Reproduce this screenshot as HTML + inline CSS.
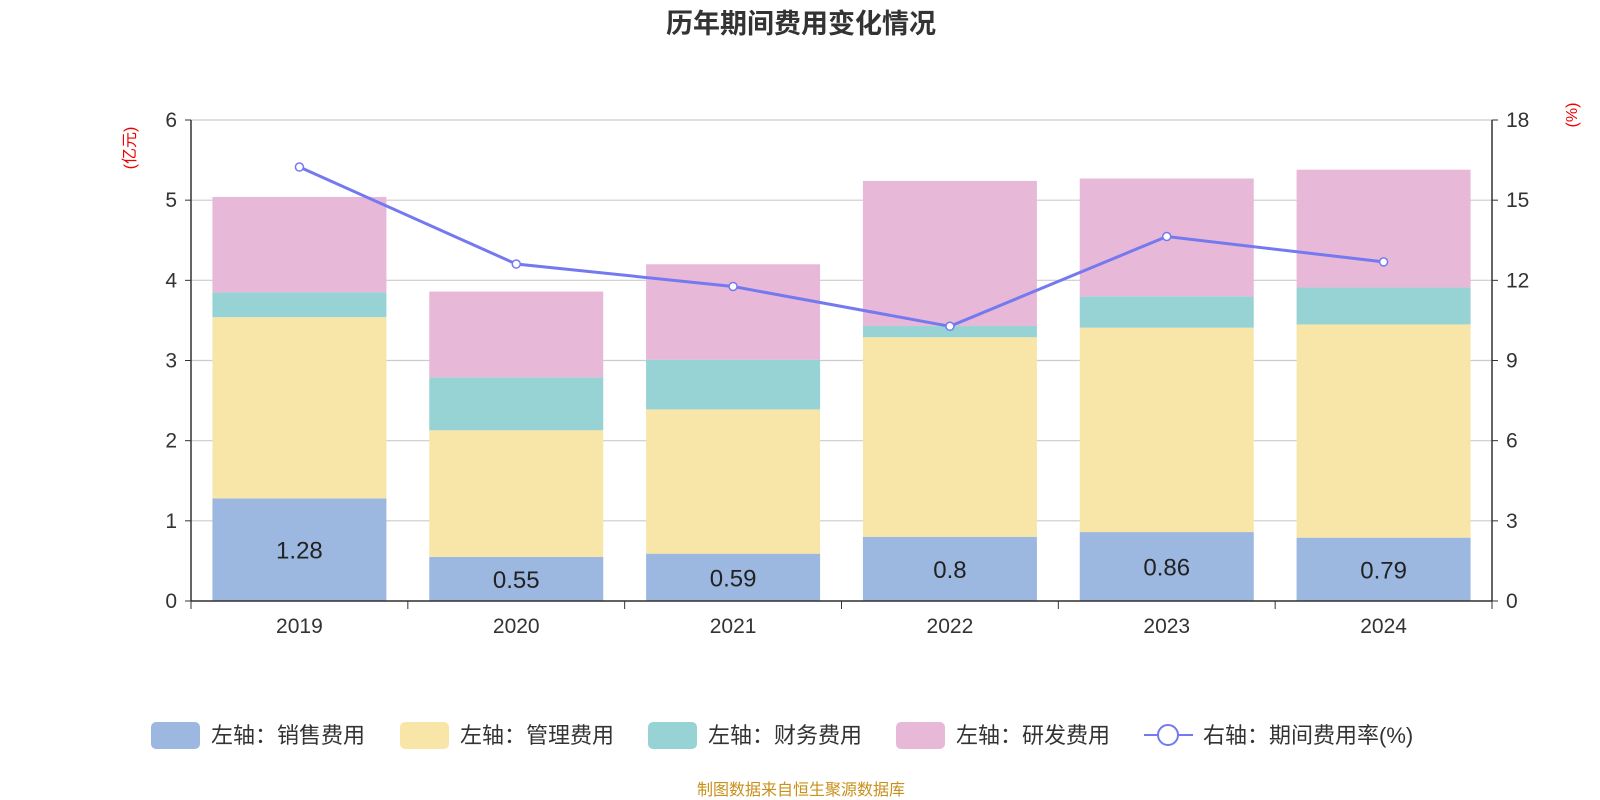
<!DOCTYPE html>
<html><head><meta charset="utf-8">
<style>
body{margin:0;background:#fff;font-family:"Liberation Sans","Noto Sans CJK SC",sans-serif;}
#wrap{position:relative;width:1600px;height:800px;overflow:hidden;}
</style></head>
<body><div id="wrap">
<svg id="chart" width="1600" height="800" xmlns="http://www.w3.org/2000/svg"></svg>
</div>
<script>
const categories=["2019","2020","2021","2022","2023","2024"];
const salesVals=[1.28,0.55,0.59,0.8,0.86,0.79];
const mgmtVals=[2.26,1.58,1.80,2.49,2.55,2.66];
const finVals=[0.31,0.66,0.62,0.14,0.39,0.46];
const rdVals=[1.19,1.07,1.19,1.81,1.47,1.47];
const rateVals=[16.24,12.61,11.77,10.28,13.64,12.69];
const leftTicks=[0,1,2,3,4,5,6];
const rightTicks=[0,3,6,9,12,15,18];

const NS="http://www.w3.org/2000/svg";
const svg=document.getElementById('chart');
const L=191,R=1492,T=120,B=601;
const yL=v=>B-(v/6)*(B-T);
const yR=v=>B-(v/18)*(B-T);
const band=(R-L)/categories.length;
const xC=i=>L+band*(i+0.5);
const bw=174;
function el(tag,attrs,text){const e=document.createElementNS(NS,tag);for(const k in attrs)e.setAttribute(k,attrs[k]);if(text!==undefined)e.textContent=text;svg.appendChild(e);return e;}
const font='"Liberation Sans","Noto Sans CJK SC",sans-serif';

let t=el('text',{x:801,y:33,'text-anchor':'middle','font-size':27,'font-weight':'bold',fill:'#333','font-family':font},'历年期间费用变化情况');



leftTicks.forEach(v=>{
  const g=el('line',{x1:L,x2:R,y1:yL(v),y2:yL(v),stroke:'#ccc','stroke-width':1.2});
  
  
  const tk=el('line',{x1:L-6,x2:L,y1:yL(v),y2:yL(v),stroke:'#333'});
  
  
  const lb=el('text',{x:L-14,y:yL(v)+7,'text-anchor':'end','font-size':21,fill:'#333','font-family':font},v);
  
  
});
rightTicks.forEach(v=>{
  const tk=el('line',{x1:R,x2:R+6,y1:yR(v),y2:yR(v),stroke:'#333'});
  
  
  const lb=el('text',{x:R+14,y:yR(v)+7,'text-anchor':'start','font-size':21,fill:'#333','font-family':font},v);
  
  
});
let a=el('line',{x1:L,x2:L,y1:T,y2:B,stroke:'#333','stroke-width':1.5});


a=el('line',{x1:R,x2:R,y1:T,y2:B,stroke:'#333','stroke-width':1.5});


a=el('text',{x:0,y:0,'font-size':16,fill:'#e00','font-family':font,transform:`translate(135,148) rotate(-90)`,'text-anchor':'middle'},'(亿元)');


a=el('text',{x:0,y:0,'font-size':16,fill:'#e00','font-family':font,transform:`translate(1577,115) rotate(-90)`,'text-anchor':'middle'},'(%)');



const series=[[salesVals,'#9cb8e0','bar-sales'],[mgmtVals,'#f7e6a8','bar-mgmt'],[finVals,'#97d3d4','bar-finance'],[rdVals,'#e7b8d8','bar-rd']];
categories.forEach((c,i)=>{
  let base=0;
  series.forEach(([vals,col,nm])=>{
    const v=vals[i];
    const r=el('rect',{x:xC(i)-bw/2,y:yL(base+v),width:bw,height:yL(base)-yL(base+v),fill:col});
    
    
    base+=v;
  });
  const lb=el('text',{x:xC(i),y:(yL(0)+yL(salesVals[i]))/2+9,'text-anchor':'middle','font-size':24,fill:'#222','font-family':font},salesVals[i]);
  
  
  const xl=el('text',{x:xC(i),y:B+32,'text-anchor':'middle','font-size':21,fill:'#333','font-family':font},c);
  
  
});
a=el('line',{x1:L,x2:R,y1:B,y2:B,stroke:'#333','stroke-width':1.5});


for(let i=0;i<=categories.length;i++){
  const tk=el('line',{x1:L+band*i,x2:L+band*i,y1:B,y2:B+8,stroke:'#333'});
  
  
}
const pts=rateVals.map((v,i)=>xC(i)+','+yR(v)).join(' ');
a=el('polyline',{points:pts,fill:'none',stroke:'#7479f0','stroke-width':3});


rateVals.forEach((v,i)=>{
  const c=el('circle',{cx:xC(i),cy:yR(v),r:4,fill:'#fff',stroke:'#7479f0','stroke-width':1.5});
  
  
});

const legend=[['左轴：销售费用','#9cb8e0',151],['左轴：管理费用','#f7e6a8',400],['左轴：财务费用','#97d3d4',648],['左轴：研发费用','#e7b8d8',896]];
legend.forEach(([txt,col,x])=>{
  const r=el('rect',{x:x,y:722,width:49,height:27,rx:5,fill:col});
  
  
  const tx=el('text',{x:x+60,y:743,'font-size':22,fill:'#333','font-family':font},txt);
  
  
});
a=el('line',{x1:1144,x2:1193,y1:735,y2:735,stroke:'#7479f0','stroke-width':2});


a=el('circle',{cx:1168,cy:735,r:10,fill:'#fff',stroke:'#7479f0','stroke-width':2});


a=el('text',{x:1203,y:743,'font-size':22,fill:'#333','font-family':font},'右轴：期间费用率(%)');


a=el('text',{x:801,y:795,'text-anchor':'middle','font-size':16,fill:'#c8901a','font-family':font},'制图数据来自恒生聚源数据库');


</script>
</body></html>
